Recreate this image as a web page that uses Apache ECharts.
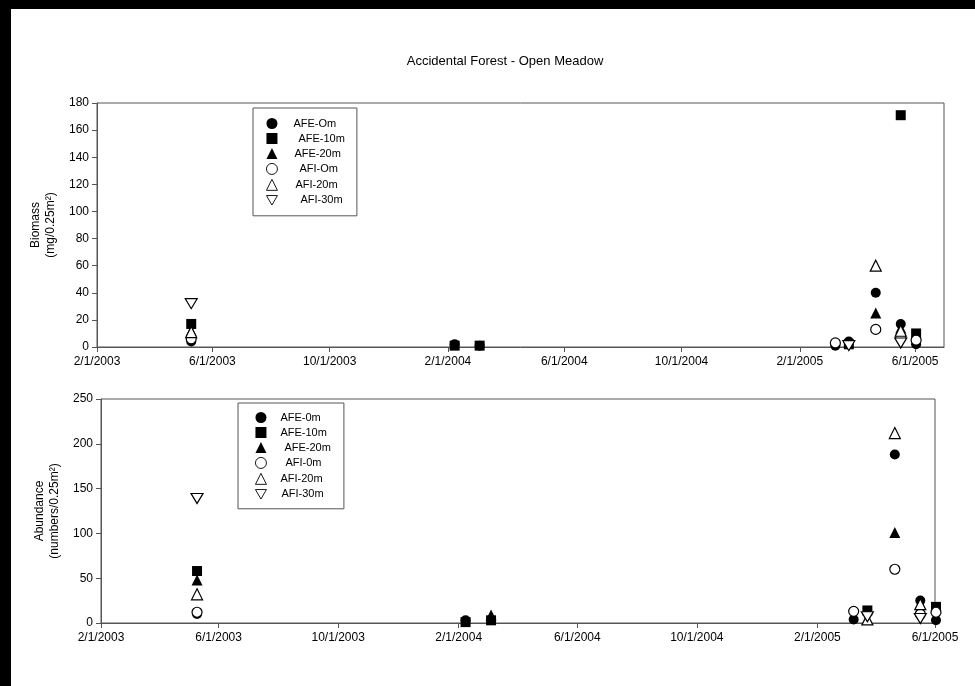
<!DOCTYPE html>
<html>
<head>
<meta charset="utf-8">
<script src="https://cdn.jsdelivr.net/npm/echarts@6/dist/echarts.min.js"></script>
<style>
html,body{margin:0;padding:0;background:#fff;}
#chart{width:975px;height:686px;}
</style>
</head>
<body>
<div id="chart"></div>
<script>
// ---- data ----
const chartTitle = 'Accidental Forest - Open Meadow';
const sampleDates = ['2003-05-10','2004-02-08','2004-03-05','2005-03-10','2005-03-24','2005-04-21','2005-05-17','2005-06-02'];
const xTickLabels = ['2/1/2003','6/1/2003','10/1/2003','2/1/2004','6/1/2004','10/1/2004','2/1/2005','6/1/2005'];
const topXRange = ['2/1/2003','7/1/2005'];
const bottomXRange = ['2/1/2003','6/1/2005'];

const topNames = ['AFE-Om','AFE-10m','AFE-20m','AFI-Om','AFI-20m','AFI-30m'];
const bottomNames = ['AFE-0m','AFE-10m','AFE-20m','AFI-0m','AFI-20m','AFI-30m'];

// Biomass (mg/0.25m2)
const bioAFE0  = [4, 2, 1, 1, 4, 40, 17, 2];
const bioAFE10 = [17, 1, 1, null, 2, null, 171, 10];
const bioAFE20 = [12, null, null, null, null, 25, 14, null];
const bioAFI0  = [6, null, null, 3, null, 13, 7, 5];
const bioAFI20 = [11, null, null, null, null, 60, 12, null];
const bioAFI30 = [32, null, null, null, 1, null, 3, null];

// Abundance (numbers/0.25m2)
const abuAFE0  = [10, 3, null, 4, null, 188, 25, 3];
const abuAFE10 = [58, 1, 3, null, 14, null, null, 18];
const abuAFE20 = [48, null, 9, null, null, 101, 21, null];
const abuAFI0  = [12, null, null, 13, null, 60, 10, 12];
const abuAFI20 = [32, null, null, null, 4, 212, 21, null];
const abuAFI30 = [139, null, null, null, 7, null, 5, null];

const topYTicks = [0, 180, 20];
const bottomYTicks = [0, 250, 50];

// ---- helpers ----
const DAY = 86400000;
function dayNum(y, m, d){ return Math.round(Date.UTC(y, m-1, d) / DAY); }
function parseMDY(s){ const p = s.split('/').map(Number); return dayNum(p[2], p[0], p[1]); }
function parseISO(s){ const p = s.split('-').map(Number); return dayNum(p[0], p[1], p[2]); }
function fmtDate(v){ const d = new Date(Math.round(v) * DAY); return (d.getUTCMonth()+1) + '/' + d.getUTCDate() + '/' + d.getUTCFullYear(); }
const xTickValues = xTickLabels.map(parseMDY);
const dateVals = sampleDates.map(parseISO);

const FONT = '"Liberation Sans", Arial, sans-serif';
const AX = '#555';
const invTri = 'path://M0,0L2,0L1,1.732Z';
const styles = [
  {symbol:'circle', symbolSize:10, itemStyle:{color:'#000', opacity:1}},
  {symbol:'rect', symbolSize:10, itemStyle:{color:'#000', opacity:1}},
  {symbol:'triangle', symbolSize:11, itemStyle:{color:'#000', opacity:1}},
  {symbol:'circle', symbolSize:10, itemStyle:{color:'#fff', borderColor:'#000', borderWidth:1.2, opacity:1}},
  {symbol:'triangle', symbolSize:11, itemStyle:{color:'#fff', borderColor:'#000', borderWidth:1.2, opacity:1}},
  {symbol:invTri, symbolSize:[12,10], itemStyle:{color:'#fff', borderColor:'#000', borderWidth:1.2, opacity:1}}
];

function buildSeries(names, lists, idx){
  return names.map((n, i) => ({
    type:'scatter', name:n, xAxisIndex:idx, yAxisIndex:idx, clip:false,
    symbol:styles[i].symbol, symbolSize:styles[i].symbolSize, itemStyle:styles[i].itemStyle,
    emphasis:{disabled:true},
    data: lists[i].map((v, k) => v == null ? null : [dateVals[k], v]).filter(d => d)
  }));
}

function xAxis(idx, range){
  return {
    type:'value', gridIndex:idx, min:parseMDY(range[0]), max:parseMDY(range[1]),
    axisLine:{show:true, onZero:false, lineStyle:{color:AX, width:1}},
    axisTick:{show:true, inside:false, length:5, lineStyle:{color:AX}, customValues:xTickValues},
    axisLabel:{color:'#000', fontFamily:FONT, fontSize:12, margin:9, customValues:xTickValues, formatter:fmtDate, hideOverlap:false},
    splitLine:{show:false}, minorTick:{show:false}
  };
}
function yAxis(idx, ticks, nameText){
  return {
    type:'value', gridIndex:idx, min:ticks[0], max:ticks[1], interval:ticks[2],
    name:nameText, nameLocation:'middle', nameGap:38, nameRotate:90,
    nameTextStyle:{color:'#000', fontFamily:FONT, fontSize:12, lineHeight:15, align:'center'},
    axisLine:{show:true, lineStyle:{color:AX, width:1}},
    axisTick:{show:true, inside:false, length:5, lineStyle:{color:AX}},
    axisLabel:{color:'#000', fontFamily:FONT, fontSize:12, margin:8},
    splitLine:{show:false}
  };
}
function legendData(names, offsets){
  return names.map((n, i) => ({name:n, textStyle:{padding:[0,0,0,offsets[i]]}}));
}

const option = {
  animation:false,
  backgroundColor:'#fff',
  title:{text:chartTitle, left:500, top:50, textAlign:'center',
    textStyle:{fontFamily:FONT, fontSize:13, fontWeight:'normal', color:'#000'}},
  graphic:[
    {type:'rect', left:0, top:0, shape:{width:975, height:9}, style:{fill:'#000'}},
    {type:'rect', left:0, top:0, shape:{width:11, height:686}, style:{fill:'#000'}}
  ],
  grid:[
    {left:97, right:31, top:103, height:244, show:true, borderColor:AX, borderWidth:1, backgroundColor:'transparent'},
    {left:101, right:40, top:399, height:224, show:true, borderColor:AX, borderWidth:1, backgroundColor:'transparent'}
  ],
  xAxis:[xAxis(0, topXRange), xAxis(1, bottomXRange)],
  yAxis:[yAxis(0, topYTicks, 'Biomass\n(mg/0.25m²)'), yAxis(1, bottomYTicks, 'Abundance\n(numbers/0.25m²)')],
  legend:[
    {orient:'vertical', left:253, top:108, itemWidth:11, itemHeight:11, itemGap:4,
     padding:[10,12,10,13], borderColor:AX, borderWidth:1, backgroundColor:'#fff',
     selectedMode:false, itemStyle:{borderWidth:0.9},
     textStyle:{fontFamily:FONT, fontSize:11, color:'#000', lineHeight:11},
     data:legendData(topNames, [11,16,12,17,13,18])},
    {orient:'vertical', left:238, top:403, itemWidth:11, itemHeight:11, itemGap:4,
     padding:[9,13,9,17], borderColor:AX, borderWidth:1, backgroundColor:'#fff',
     selectedMode:false, itemStyle:{borderWidth:0.9},
     textStyle:{fontFamily:FONT, fontSize:11, color:'#000', lineHeight:11},
     data:legendData(bottomNames, [9,9,13,14,9,10])}
  ],
  series:[].concat(
    buildSeries(topNames, [bioAFE0, bioAFE10, bioAFE20, bioAFI0, bioAFI20, bioAFI30], 0),
    buildSeries(bottomNames, [abuAFE0, abuAFE10, abuAFE20, abuAFI0, abuAFI20, abuAFI30], 1)
  )
};
const chart = echarts.init(document.getElementById('chart'), null, {renderer:'canvas'});
chart.setOption(option);
</script>
</body>
</html>
